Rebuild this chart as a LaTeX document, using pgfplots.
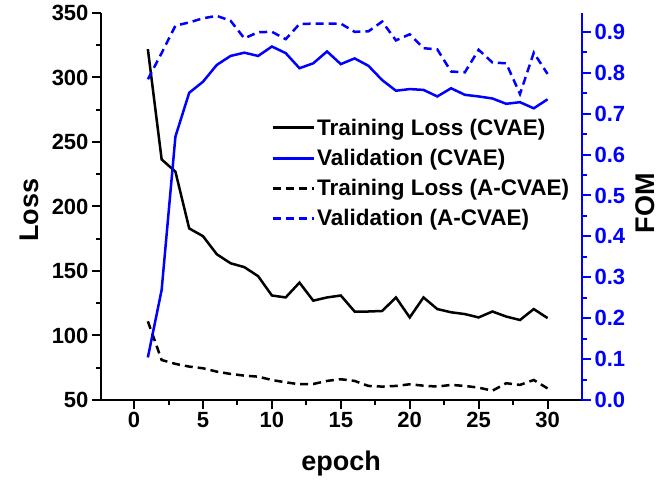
\documentclass[border=0pt]{standalone}
\usepackage{fontspec}
\setmainfont{Liberation Sans}
\usepackage{pgfplots}
\pgfplotsset{compat=1.18}
\definecolor{fomblue}{RGB}{0,0,255}
\pgfplotstableread{
ep trc vac tra vaa
1 322 0.104 111 0.784
2 236.5 0.269 81 0.848
3 227 0.644 78 0.915
4 183 0.751 75.9 0.923
5 177 0.778 74.6 0.933
6 163 0.819 72 0.939
7 156 0.841 70.2 0.927
8 153 0.849 68.9 0.884
9 146 0.841 68.1 0.899
10 131 0.864 65.5 0.900
11 129.5 0.848 63.7 0.882
12 141 0.811 62.2 0.919
13 127 0.823 62.4 0.920
14 129.5 0.852 64.8 0.920
15 131 0.821 66.1 0.920
16 118.6 0.835 64.8 0.900
17 118.6 0.817 60.9 0.901
18 119 0.782 60.4 0.925
19 129.5 0.756 60.9 0.879
20 114 0.760 62.2 0.894
21 129.5 0.758 61.1 0.860
22 120.5 0.742 60.4 0.857
23 118 0.762 61.7 0.803
24 116.6 0.746 60.9 0.801
25 114 0.742 59.6 0.856
26 118.6 0.737 57.2 0.825
27 114.7 0.724 63 0.823
28 112 0.728 61.7 0.748
29 120.5 0.713 65.5 0.849
30 113.5 0.735 59 0.797
}\datatable
\begin{document}
\begin{tikzpicture}[x=1pt,y=1pt]
\useasboundingbox (0,0) rectangle (663,481);
\pgfplotsset{
  common/.style={
    at={(101pt,81pt)}, anchor=south west, scale only axis,
    width=481pt, height=387pt,
    xmin=-2.4, xmax=32.5,
    tick align=outside,
    major tick length=9pt, minor tick length=5pt,
    every tick/.style={line width=2pt},
    /pgf/number format/assume math mode=true,
    ticklabel style={font=\bfseries\fontsize{22}{24}\selectfont},
    label style={font=\bfseries\fontsize{27}{30}\selectfont},
    axis line style={line width=2.5pt},
    clip=false,
  },
  dsh/.style={dash pattern=on 8pt off 5pt},
}
\begin{axis}[common,
  ymin=50, ymax=350,
  axis x line*=bottom, axis y line*=left,
  xtick={0,5,...,30}, ytick={50,100,...,350},
  minor x tick num=1, minor y tick num=1,
  xlabel={epoch}, ylabel={Loss},
  xlabel style={at={(axis description cs:0.499,-0.165)}, anchor=center},
  ylabel style={at={(axis description cs:-0.148,0.49)}, anchor=center},
]
\addplot[black, line width=2.5pt] table[x=ep,y=trc]{\datatable};
\addplot[black, line width=2.5pt, dsh] table[x=ep,y=tra]{\datatable};
\end{axis}
\begin{axis}[common,
  ymin=0, ymax=0.946,
  axis x line=none, axis y line*=right,
  y axis line style={fomblue},
  ytick={0,0.1,0.2,0.3,0.4,0.5,0.6,0.7,0.8,0.9},
  minor y tick num=1,
  ytick style={fomblue},
  yticklabel style={fomblue, /pgf/number format/.cd, fixed, fixed zerofill, precision=1},
  ylabel={FOM},
  ylabel style={at={(axis description cs:1.132,0.509)}, anchor=center},
  legend cell align=left,
  legend style={at={(0.347,0.737)}, anchor=north west, draw=none, fill=none,
    font=\bfseries\fontsize{22.5}{24}\selectfont, row sep=8.4pt},
  legend image code/.code={\draw[#1, line width=3pt] (0pt,0pt) -- (41pt,0pt);},
]
\addplot[fomblue, line width=2.5pt, forget plot] table[x=ep,y=vac]{\datatable};
\addplot[fomblue, line width=2.5pt, dsh, forget plot] table[x=ep,y=vaa]{\datatable};
\addlegendimage{black}
\addlegendentry{Training Loss (CVAE)}
\addlegendimage{fomblue}
\addlegendentry{Validation (CVAE)}
\addlegendimage{black, dsh}
\addlegendentry{Training Loss (A-CVAE)}
\addlegendimage{fomblue, dsh}
\addlegendentry{Validation (A-CVAE)}
\end{axis}
\end{tikzpicture}
\end{document}
